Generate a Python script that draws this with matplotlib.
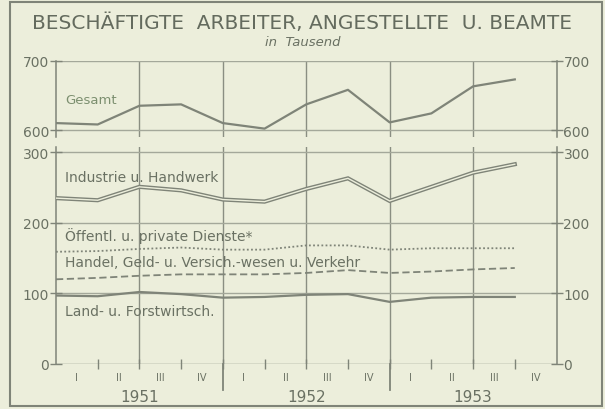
import numpy as np
import matplotlib.pyplot as plt
from matplotlib.patches import Rectangle

# Werte in Tausend, je Quartal 1951 I ... 1953 IV
quartale = np.arange(12)
gesamt = [610, 608, 635, 637, 610, 602, 637, 658, 611, 624, 663, 673]
industrie = [235, 232, 251, 246, 233, 230, 248, 263, 231, 251, 271, 283]
dienste = [159, 160, 163, 165, 162, 162, 168, 168, 162, 164, 164, 164]
handel = [120, 122, 125, 127, 127, 127, 129, 133, 129, 131, 134, 136]
land = [97, 96, 102, 99, 94, 95, 98, 99, 88, 94, 95, 95]

q_labels = ["I", "II", "III", "IV"] * 3
jahre = ["1951", "1952", "1953"]

bg = "#eceedb"
linie = "#7f8478"
gitter = "#a4a89a"
schrift = "#6a7163"

W, H = 605, 410
fig = plt.figure(figsize=(W / 100, H / 100), dpi=100, facecolor=bg)

def box(x0, y0, x1, y1):
    # Pixel (oben links) -> Figurkoordinaten
    return [x0 / W, 1 - y1 / H, (x1 - x0) / W, (y1 - y0) / H]

ax1 = fig.add_axes(box(56, 61.7, 556.5, 138.3))
ax2 = fig.add_axes(box(56, 148.3, 556.5, 365))

for ax in (ax1, ax2):
    ax.set_facecolor(bg)
    ax.set_xlim(0, 12)
    for s in ("top", "bottom"):
        ax.spines[s].set_visible(False)
    for s in ("left", "right"):
        ax.spines[s].set_color(linie)
        ax.spines[s].set_linewidth(1.1)
    ax.tick_params(axis="y", left=True, right=True, labelleft=True, labelright=True,
                   direction="inout", length=8, width=1, color=linie, pad=1,
                   labelsize=10, labelcolor=schrift)
    for xv in (2, 4, 6, 8, 10):
        ax.axvline(xv, color="#8a8e82", lw=1, zorder=1)

ax1.set_ylim(589.5, 700)
ax1.set_yticks([600, 700])
ax1.set_xticks([])
ax2.set_ylim(0, 307)
ax2.set_yticks([0, 100, 200, 300])
ax2.set_xticks(range(1, 12))
ax2.tick_params(axis="x", direction="inout", length=7, width=1, color=linie, labelbottom=False)

for yv in (600, 700):
    ax1.axhline(yv, color=gitter, lw=1, zorder=1)
for yv in (0, 100, 200, 300):
    ax2.axhline(yv, color=gitter if yv else linie, lw=1, zorder=1)

# Linien
ax1.plot(quartale, gesamt, color=linie, lw=1.6, zorder=3)
ax2.plot(quartale, industrie, color=linie, lw=3.0, zorder=3, solid_joinstyle="miter")
ax2.plot(quartale, industrie, color=bg, lw=1.0, zorder=4, solid_joinstyle="miter")
ax2.plot(quartale, dienste, color=linie, lw=1.3, ls=(0, (1, 1.3)), zorder=3)
ax2.plot(quartale, handel, color=linie, lw=1.3, ls=(0, (4, 2)), zorder=3)
ax2.plot(quartale, land, color=linie, lw=1.6, zorder=3)

# Beschriftungen der Reihen
kw = dict(fontsize=10, color=schrift, va="center", ha="left", zorder=5)
ax1.text(0.22, 644, "Gesamt", fontsize=9.5, color="#7c8f6f", va="center", ha="left")
ax2.text(0.22, 265, "Industrie u. Handwerk", **kw)
ax2.text(0.22, 183, "Öffentl. u. private Dienste*", **kw)
ax2.text(0.22, 144, "Handel, Geld- u. Versich.-wesen u. Verkehr", **kw)
ax2.text(0.22, 75, "Land- u. Forstwirtsch.", **kw)

# Quartale und Jahre unter der Achse
tr = ax2.get_xaxis_transform()
for i, q in enumerate(q_labels):
    ax2.text(i + 0.5, -0.062, q, transform=tr, fontsize=7, color=schrift,
             ha="center", va="center")
for xv in (4, 8):
    ax2.plot([xv, xv], [0, -0.122], transform=tr, color=linie, lw=1.3, clip_on=False)
for i, j in enumerate(jahre):
    ax2.text(2 + 4 * i, -0.152, j, transform=tr, fontsize=11, color=schrift,
             ha="center", va="center")

# Titel
fig.text(0.5, 1 - 23 / H, "BESCHÄFTIGTE  ARBEITER, ANGESTELLTE  U. BEAMTE",
         fontsize=14.5, color="#646b5e", ha="center", va="center")
fig.text(0.5, 1 - 42 / H, "in  Tausend", fontsize=9.5, style="italic",
         color=schrift, ha="center", va="center")

# Rahmen
fig.patches.append(Rectangle((10 / W, 3 / H), 592 / W, 404 / H, transform=fig.transFigure,
                             fill=False, edgecolor=linie, lw=1.5))

fig.savefig("out.png", dpi=100, facecolor=bg)
